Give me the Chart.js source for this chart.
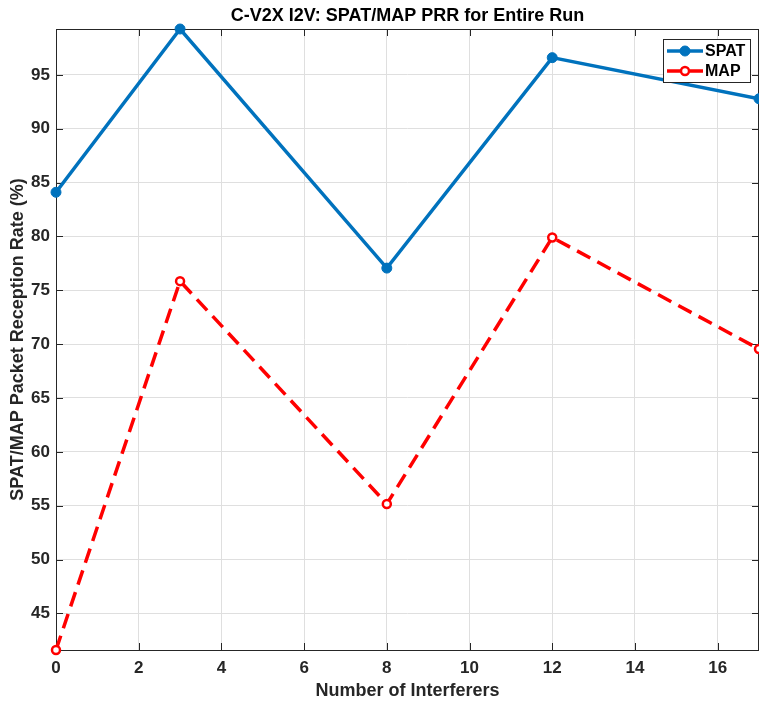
<!DOCTYPE html>
<html>
<head>
<meta charset="utf-8">
<title>C-V2X I2V PRR</title>
<script src="https://cdn.jsdelivr.net/npm/chart.js@4/dist/chart.umd.min.js"></script>
<style>
    html, body { margin: 0; padding: 0; background: #fff; }
    #wrap { width: 759px; height: 706px; position: relative; }
</style>
</head>
<body>
<div id="wrap"><canvas id="prrChart" width="759" height="706"></canvas></div>
<script>
// Reception rate per interferer count
const interferers = [0, 3, 8, 12, 17];
const spatPrr = [84.1, 99.26, 77.06, 96.6, 92.78];
const mapPrr = [41.6, 75.85, 55.16, 79.9, 69.55];

// Axis ticks
const xTickValues = [0, 2, 4, 6, 8, 10, 12, 14, 16];
const yTickValues = [45, 50, 55, 60, 65, 70, 75, 80, 85, 90, 95];

const FONT = '"Liberation Sans", Arial, Helvetica, sans-serif';
const AXIS_COLOR = '#262626';
const GRID_COLOR = '#dfdfdf';
const SPAT_COLOR = '#0072BD';
const MAP_COLOR = '#FF0000';

const toPoints = (ys) => interferers.map((x, i) => ({ x, y: ys[i] }));

// Box around the axes with inward tick marks on all four sides
const axesBox = {
    id: 'axesBox',
    beforeDatasetsDraw(chart) {
        const { ctx, chartArea: a, scales } = chart;
        const len = 7;
        ctx.save();
        ctx.strokeStyle = AXIS_COLOR;
        ctx.lineWidth = 1;
        ctx.beginPath();
        xTickValues.forEach(v => {
            const px = Math.round(scales.x.getPixelForValue(v)) + 0.5;
            ctx.moveTo(px, a.bottom); ctx.lineTo(px, a.bottom - len);
            ctx.moveTo(px, a.top); ctx.lineTo(px, a.top + len);
        });
        yTickValues.forEach(v => {
            const py = Math.round(scales.y.getPixelForValue(v)) + 0.5;
            ctx.moveTo(a.left, py); ctx.lineTo(a.left + len, py);
            ctx.moveTo(a.right, py); ctx.lineTo(a.right - len, py);
        });
        ctx.stroke();
        ctx.strokeRect(a.left + 0.5, a.top + 0.5, a.right - a.left - 1, a.bottom - a.top);
        ctx.restore();
    },
    afterDraw(chart) {
        const { ctx, chartArea: a } = chart;
        ctx.save();
        ctx.fillStyle = '#000';
        ctx.font = 'bold 18px ' + FONT;
        ctx.textAlign = 'center';
        ctx.textBaseline = 'middle';
        ctx.fillText('C-V2X I2V: SPAT/MAP PRR for Entire Run', (a.left + a.right) / 2, 16);
        ctx.restore();
    }
};

// MATLAB-style legend in the upper right corner
const boxLegend = {
    id: 'boxLegend',
    afterDraw(chart) {
        const { ctx } = chart;
        const bx = 663, by = 39, bw = 87, bh = 43;
        ctx.save();
        ctx.fillStyle = '#fff';
        ctx.fillRect(bx, by, bw, bh);
        ctx.strokeStyle = AXIS_COLOR;
        ctx.lineWidth = 1;
        ctx.strokeRect(bx + 0.5, by + 0.5, bw, bh);
        chart.data.datasets.forEach((ds, i) => {
            const y = by + 12 + i * 20;
            const x0 = bx + 4, x1 = bx + 40, xm = (x0 + x1) / 2;
            ctx.strokeStyle = ds.borderColor;
            ctx.lineWidth = ds.borderWidth;
            ctx.setLineDash(ds.borderDash || []);
            ctx.beginPath();
            ctx.moveTo(x0, y); ctx.lineTo(x1, y);
            ctx.stroke();
            ctx.setLineDash([]);
            ctx.beginPath();
            ctx.arc(xm, y, ds.pointRadius, 0, Math.PI * 2);
            ctx.fillStyle = ds.pointBackgroundColor;
            ctx.fill();
            ctx.lineWidth = ds.pointBorderWidth;
            ctx.strokeStyle = ds.pointBorderColor;
            ctx.stroke();
            ctx.fillStyle = '#000';
            ctx.font = 'bold 16px ' + FONT;
            ctx.textAlign = 'left';
            ctx.textBaseline = 'middle';
            ctx.fillText(ds.label, x1 + 2, y + 1);
        });
        ctx.restore();
    }
};

new Chart(document.getElementById('prrChart'), {
    type: 'line',
    data: {
        datasets: [
            {
                label: 'SPAT',
                data: toPoints(spatPrr),
                borderColor: SPAT_COLOR,
                borderWidth: 3.5,
                pointRadius: 5,
                pointBackgroundColor: SPAT_COLOR,
                pointBorderColor: SPAT_COLOR,
                pointBorderWidth: 1,
                tension: 0,
                clip: false
            },
            {
                label: 'MAP',
                data: toPoints(mapPrr),
                borderColor: MAP_COLOR,
                borderWidth: 3.5,
                borderDash: [15, 8],
                pointRadius: 4,
                pointBackgroundColor: '#fff',
                pointBorderColor: MAP_COLOR,
                pointBorderWidth: 2.5,
                tension: 0,
                clip: false
            }
        ]
    },
    options: {
        responsive: false,
        animation: false,
        layout: { padding: { top: 29, right: 0, bottom: 0, left: 0 }, autoPadding: false },
        plugins: {
            legend: { display: false },
            title: { display: false },
            tooltip: { enabled: false }
        },
        scales: {
            x: {
                type: 'linear',
                min: 0,
                max: 17,
                afterFit: (s) => { s.height = 56; },
                afterBuildTicks: (s) => { s.ticks = xTickValues.map(v => ({ value: v })); },
                grid: { color: GRID_COLOR, drawTicks: false },
                border: { display: false },
                ticks: { color: AXIS_COLOR, font: { family: FONT, size: 17, weight: 'bold' }, padding: 8, maxRotation: 0 },
                title: {
                    display: true,
                    text: 'Number of Interferers',
                    color: AXIS_COLOR,
                    font: { family: FONT, size: 18, weight: 'bold' },
                    padding: { top: 0, bottom: 4 }
                }
            },
            y: {
                min: Math.min(...mapPrr),
                max: Math.max(...spatPrr),
                afterFit: (s) => { s.width = 56; },
                afterBuildTicks: (s) => { s.ticks = yTickValues.map(v => ({ value: v })); },
                grid: { color: GRID_COLOR, drawTicks: false },
                border: { display: false },
                ticks: { color: AXIS_COLOR, font: { family: FONT, size: 17, weight: 'bold' }, padding: 6 },
                title: {
                    display: true,
                    text: 'SPAT/MAP Packet Reception Rate (%)',
                    color: AXIS_COLOR,
                    font: { family: FONT, size: 18, weight: 'bold' },
                    padding: { top: 7, bottom: 0 }
                }
            }
        }
    },
    plugins: [axesBox, boxLegend]
});
</script>
</body>
</html>
